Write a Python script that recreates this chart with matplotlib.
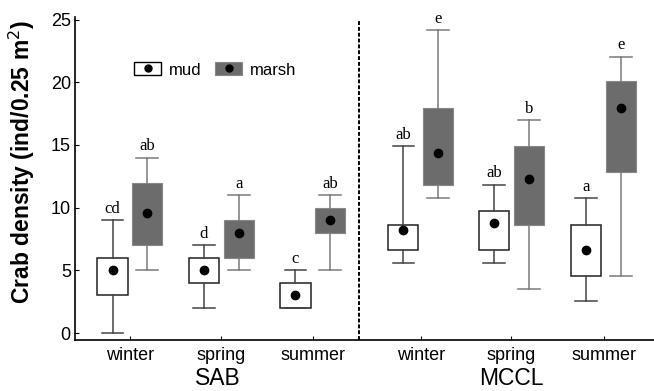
import matplotlib
matplotlib.use("Agg")
import matplotlib.pyplot as plt
from matplotlib.patches import Patch
from matplotlib.lines import Line2D
from matplotlib.legend_handler import HandlerTuple
import matplotlib.transforms as mtransforms

# ---- data ----
seasons = ['winter', 'spring', 'summer', 'winter', 'spring', 'summer']
sites = ['SAB', 'MCCL']

mud_min = [0, 2, 2, 5.6, 5.6, 2.55]
mud_q1 = [3, 4, 2, 6.65, 6.65, 4.57]
mud_mid = [5, 5, 3, 8.24, 8.75, 6.65]
mud_q3 = [6, 6, 4, 8.64, 9.76, 8.64]
mud_max = [9, 7, 5, 14.9, 11.83, 10.77]
mud_letters = ['cd', 'd', 'c', 'ab', 'ab', 'a']

marsh_min = [5, 5, 5, 10.77, 3.54, 4.57]
marsh_q1 = [7, 6, 8, 11.83, 8.64, 12.85]
marsh_mid = [9.55, 8, 9, 14.33, 12.31, 17.95]
marsh_q3 = [12, 9, 10, 17.95, 14.9, 20.08]
marsh_max = [14, 11, 11, 24.15, 16.97, 22.05]
marsh_letters = ['ab', 'a', 'ab', 'e', 'b', 'e']

# ---- layout ----
centers = [0.0, 1.0, 2.0, 3.18, 4.17, 5.18]
offset = 0.19
width = 0.33
site_label_x = [0.96, 4.17]
divider_x = 2.50

fig = plt.figure(figsize=(6.54, 3.91), dpi=100)
ax = fig.add_axes([0.1147, 0.1304, 0.8853, 0.8261])

def stats(mn, q1, mid, q3, mx):
    return [dict(whislo=a, q1=b, med=c, mean=c, q3=d, whishi=e, fliers=[])
            for a, b, c, d, e in zip(mn, q1, mid, q3, mx)]

mud_pos = [c - offset for c in centers]
marsh_pos = [c + offset for c in centers]

ax.bxp(stats(mud_min, mud_q1, mud_mid, mud_q3, mud_max), positions=mud_pos,
       widths=width, showmeans=True, showfliers=False, patch_artist=True,
       boxprops=dict(facecolor='white', edgecolor='#222222', linewidth=1.1),
       whiskerprops=dict(color='#444444', linewidth=1.1),
       capprops=dict(color='#444444', linewidth=1.1),
       capwidths=width * 0.72,
       medianprops=dict(visible=False),
       meanprops=dict(marker='o', markerfacecolor='black', markeredgecolor='black', markersize=6))

ax.bxp(stats(marsh_min, marsh_q1, marsh_mid, marsh_q3, marsh_max), positions=marsh_pos,
       widths=width, showmeans=True, showfliers=False, patch_artist=True,
       boxprops=dict(facecolor='#6c6c6c', edgecolor='#888888', linewidth=0.8),
       whiskerprops=dict(color='#7a7a7a', linewidth=1.1),
       capprops=dict(color='#7a7a7a', linewidth=1.1),
       capwidths=width * 0.72,
       medianprops=dict(visible=False),
       meanprops=dict(marker='o', markerfacecolor='black', markeredgecolor='black', markersize=6))

for x, y, t in zip(mud_pos, mud_max, mud_letters):
    ax.annotate(t, (x, y), xytext=(0, 2.5), textcoords='offset points',
                ha='center', va='bottom', family='Liberation Serif', fontsize=12)
for x, y, t in zip(marsh_pos, marsh_max, marsh_letters):
    ax.annotate(t, (x, y), xytext=(0, 2.5), textcoords='offset points',
                ha='center', va='bottom', family='Liberation Serif', fontsize=12)

ax.axvline(divider_x, ymin=0, ymax=0.99, color='black', linestyle=(0, (2, 1)), linewidth=1.4)

ax.set_xlim(-0.60, 5.73)
ax.set_ylim(-0.55, 25.2)
ax.set_yticks([0, 5, 10, 15, 20, 25])
ax.set_xticks(centers)
ax.set_xticklabels(seasons, fontsize=13, family='Liberation Sans')
ax.tick_params(axis='y', labelsize=13, direction='in', length=3, pad=3)
ax.tick_params(axis='x', direction='in', length=3, pad=5)
for lab in ax.get_yticklabels():
    lab.set_family('Liberation Sans')
for s in ['top', 'right']:
    ax.spines[s].set_visible(False)
for s in ['left', 'bottom']:
    ax.spines[s].set_linewidth(1.2)

ax.set_ylabel('Crab density (ind/0.25 m$^2$)', fontsize=16.5, fontweight='bold',
              family='Liberation Sans', labelpad=6)
ax.yaxis.set_label_coords(-0.066, 0.55)

trans = mtransforms.blended_transform_factory(ax.transData, fig.transFigure)
for x, s in zip(site_label_x, sites):
    ax.text(x, 0.003, s, transform=trans, ha='center', va='bottom',
            fontsize=16.5, family='Liberation Sans')

h_mud = (Patch(facecolor='white', edgecolor='black', linewidth=1),
         Line2D([], [], marker='o', color='black', linestyle='', markersize=5))
h_marsh = (Patch(facecolor='#6c6c6c', edgecolor='#888888', linewidth=0.8),
           Line2D([], [], marker='o', color='black', linestyle='', markersize=5))
ax.legend([h_mud, h_marsh], ['mud', 'marsh'], handler_map={tuple: HandlerTuple(ndivide=1)},
          ncol=2, frameon=False, loc='center left', bbox_to_anchor=(0.088, 0.836),
          prop=dict(family='Liberation Sans', size=12), handlelength=1.6,
          handleheight=0.8, handletextpad=0.5, columnspacing=0.8, borderpad=0)

fig.savefig('out.png', dpi=100)
